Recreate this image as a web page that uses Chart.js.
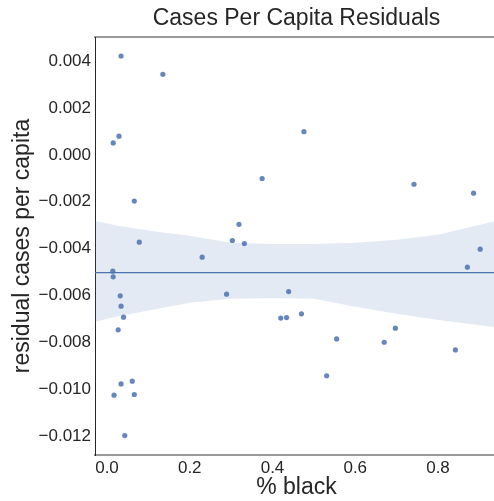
<!DOCTYPE html>
<html>
<head>
<meta charset="utf-8">
<script src="https://cdn.jsdelivr.net/npm/chart.js@4"></script>
<style>
	html, body { margin: 0; padding: 0; background: #fff; overflow: hidden; }
	#wrap { width: 502px; height: 501px; }
</style>
</head>
<body>
<div id="wrap"><canvas id="chart" width="502" height="501"></canvas></div>
<script>
// scatter points: % black vs residual
const pctBlack = [
	0.034, 0.135, 0.029, 0.015, 0.375, 0.066, 0.319, 0.078, 0.303, 0.332,
	0.230, 0.014, 0.015, 0.032, 0.034, 0.040, 0.027, 0.289, 0.439, 0.420,
	0.434, 0.061, 0.034, 0.017, 0.066, 0.043, 0.476, 0.742, 0.886, 0.902,
	0.871, 0.470, 0.555, 0.531, 0.670, 0.697, 0.842
];
const residuals = [
	0.00422, 0.00344, 0.00080, 0.00051, -0.00101, -0.00197, -0.00296, -0.00372, -0.00365, -0.00378,
	-0.00436, -0.00496, -0.00520, -0.00601, -0.00645, -0.00692, -0.00746, -0.00594, -0.00583, -0.00696,
	-0.00694, -0.00965, -0.00977, -0.01025, -0.01022, -0.01197, 0.00099, -0.00125, -0.00163, -0.00402,
	-0.00479, -0.00678, -0.00785, -0.00942, -0.00799, -0.00739, -0.00832
];

// fitted line and its confidence band
const fitX = [-0.03, 0.945];
const fitY = [-0.00502, -0.00502];
const bandX = [-0.03, 0.03, 0.12, 0.2, 0.3, 0.4, 0.5, 0.6, 0.7, 0.8, 0.93, 0.945];
const bandUpper = [-0.00281, -0.00303, -0.00328, -0.00345, -0.00375, -0.00380, -0.00380, -0.00375, -0.00362, -0.00341, -0.00286, -0.00278];
const bandLower = [-0.00712, -0.00687, -0.00657, -0.00631, -0.00614, -0.00610, -0.00614, -0.00648, -0.00678, -0.00704, -0.00733, -0.00738];

const xTicks = [0.0, 0.2, 0.4, 0.6, 0.8];
const yTicks = [0.004, 0.002, 0.000, -0.002, -0.004, -0.006, -0.008, -0.010, -0.012];

const blue = '#4c72b0';
const ink = '#262626';
const font = 'Arial, "Liberation Sans", sans-serif';

const pts = (xs, ys) => xs.map((x, i) => ({ x, y: ys[i] }));
const fmt = (v, d) => {
	const s = Math.abs(v).toFixed(d);
	return (v < -1e-12 ? '\u2212' : '') + s;
};

new Chart(document.getElementById('chart'), {
	type: 'scatter',
	data: {
		datasets: [
			{
				data: pts(bandX, bandUpper),
				showLine: true,
				borderWidth: 0,
				pointRadius: 0,
				backgroundColor: 'rgba(76, 114, 176, 0.15)',
				fill: '+1',
				order: 3
			},
			{
				data: pts(bandX, bandLower),
				showLine: true,
				borderWidth: 0,
				pointRadius: 0,
				fill: false,
				order: 3
			},
			{
				data: pts(fitX, fitY),
				showLine: true,
				borderColor: blue,
				borderWidth: 1.3,
				pointRadius: 0,
				order: 2
			},
			{
				data: pts(pctBlack, residuals),
				backgroundColor: 'rgba(76, 114, 176, 0.85)',
				borderWidth: 0,
				pointRadius: 2.6,
				order: 1
			}
		]
	},
	options: {
		responsive: false,
		animation: false,
		layout: { padding: 0 },
		plugins: {
			legend: { display: false },
			tooltip: { enabled: false }
		},
		scales: {
			x: {
				type: 'linear',
				min: -0.029,
				max: 0.945,
				grid: { display: false, drawTicks: false },
				border: { color: '#999', width: 2 },
				afterBuildTicks: s => { s.ticks = xTicks.map(v => ({ value: v })); },
				afterFit: s => { s.height = 46; },
				ticks: {
					padding: 3,
					color: ink,
					font: { family: font, size: 17 },
					callback: v => fmt(v, 1)
				},
				title: {
					display: true,
					text: '% black',
					color: ink,
					font: { family: font, size: 23, lineHeight: 1.2 },
					padding: { top: 0, bottom: 0 }
				}
			},
			// top axis: only carries the frame line and the chart title, centred on the plot
			top: {
				type: 'linear',
				position: 'top',
				min: -0.029,
				max: 0.945,
				grid: { display: false, drawTicks: false },
				border: { color: '#999', width: 2 },
				ticks: { display: false },
				afterFit: s => { s.height = 37; },
				title: {
					display: true,
					text: 'Cases Per Capita Residuals',
					color: ink,
					font: { family: font, size: 23, lineHeight: 1.2 },
					padding: { top: 5, bottom: 0 }
				}
			},
			y: {
				min: -0.0128,
				max: 0.00503,
				grid: { display: false, drawTicks: false },
				border: { color: ink, width: 1 },
				afterBuildTicks: s => { s.ticks = yTicks.map(v => ({ value: v })); },
				afterFit: s => { s.width = 95; },
				ticks: {
					padding: 4,
					color: ink,
					font: { family: font, size: 17 },
					callback: v => fmt(v, 3)
				},
				title: {
					display: true,
					text: 'residual cases per capita',
					color: ink,
					font: { family: font, size: 23, lineHeight: 1.2 },
					padding: { top: 9, bottom: 0 }
				}
			}
		}
	}
});
</script>
</body>
</html>
